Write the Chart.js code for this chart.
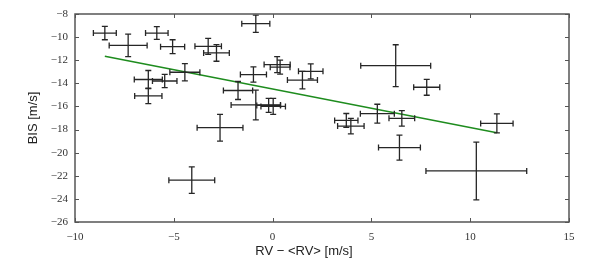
<!DOCTYPE html>
<html>
<head>
<meta charset="utf-8">
<script src="https://cdn.jsdelivr.net/npm/chart.js@4.4.1/dist/chart.umd.min.js"></script>
<style>
  html, body { margin: 0; padding: 0; background: #ffffff; }
  #wrap { width: 600px; height: 279px; position: relative; }
</style>
</head>
<body>
<div id="wrap"><canvas id="c" width="600" height="279"></canvas></div>
<script>
// ---- data ----
const rvValues  = [-8.49, -7.31, -5.86, -5.06, -3.26, -2.84, -0.85, 0.23, 0.38, -0.97, 1.93, 1.51, -4.44, -6.29, -5.46, -6.29, -1.75, -0.85, -0.20, 0.03, -2.66, -4.09, 6.23, 7.80, 3.73, 3.96, 5.30, 6.54, 6.42, 10.31, 11.35];
const bisValues = [-9.65, -10.72, -9.65, -10.83, -10.80, -11.37, -8.84, -12.38, -12.60, -13.24, -12.96, -13.72, -13.04, -13.67, -13.80, -15.09, -14.62, -15.87, -15.91, -16.00, -17.84, -22.38, -12.47, -14.34, -17.21, -17.70, -16.63, -17.03, -19.56, -21.58, -17.47];
const rvErrors  = [0.58, 0.96, 0.57, 0.61, 0.67, 0.65, 0.71, 0.66, 0.50, 0.66, 0.62, 0.76, 0.76, 0.71, 0.62, 0.69, 0.74, 1.25, 0.60, 0.62, 1.16, 1.16, 1.77, 0.66, 0.59, 0.67, 0.86, 0.65, 1.06, 2.55, 0.82];
const bisErrors = [0.58, 0.97, 0.55, 0.60, 0.69, 0.72, 0.75, 0.69, 0.60, 0.66, 0.65, 0.76, 0.75, 0.78, 0.58, 0.67, 0.78, 1.29, 0.60, 0.69, 1.16, 1.15, 1.81, 0.69, 0.60, 0.67, 0.82, 0.67, 1.08, 2.50, 0.82];
const fitRV  = [-8.49, 11.35];
const fitBIS = [-11.66, -18.27];
const xTickValues = [-10, -5, 0, 5, 10, 15];
const yTickValues = [-8, -10, -12, -14, -16, -18, -20, -22, -24, -26];
const xTitle = 'RV \u2212 <RV> [m/s]';
const yTitle = 'BIS [m/s]';

const points = rvValues.map((x, i) => ({ x: x, y: bisValues[i] }));
const fitPoints = fitRV.map((x, i) => ({ x: x, y: fitBIS[i] }));

function fmt(v) { return v < 0 ? '\u2212' + Math.abs(v) : String(v); }

const errorBarPlugin = {
  id: 'errorBars',
  afterDatasetsDraw(chart) {
    const ctx = chart.ctx, xs = chart.scales.x, ys = chart.scales.y;
    ctx.save();
    ctx.strokeStyle = '#262626';
    ctx.lineWidth = 1.3;
    const cap = 3;
    for (let i = 0; i < rvValues.length; i++) {
      const px = xs.getPixelForValue(rvValues[i]);
      const py = ys.getPixelForValue(bisValues[i]);
      const x0 = xs.getPixelForValue(rvValues[i] - rvErrors[i]);
      const x1 = xs.getPixelForValue(rvValues[i] + rvErrors[i]);
      const y0 = ys.getPixelForValue(bisValues[i] - bisErrors[i]);
      const y1 = ys.getPixelForValue(bisValues[i] + bisErrors[i]);
      ctx.beginPath();
      ctx.moveTo(x0, py); ctx.lineTo(x1, py);
      ctx.moveTo(x0, py - cap); ctx.lineTo(x0, py + cap);
      ctx.moveTo(x1, py - cap); ctx.lineTo(x1, py + cap);
      ctx.moveTo(px, y0); ctx.lineTo(px, y1);
      ctx.moveTo(px - cap, y0); ctx.lineTo(px + cap, y0);
      ctx.moveTo(px - cap, y1); ctx.lineTo(px + cap, y1);
      ctx.stroke();
    }
    ctx.restore();
  }
};

const framePlugin = {
  id: 'frame',
  afterDraw(chart) {
    const ctx = chart.ctx, a = chart.chartArea, xs = chart.scales.x, ys = chart.scales.y;
    ctx.save();
    ctx.strokeStyle = '#555555';
    ctx.lineWidth = 1.5;
    ctx.strokeRect(a.left, a.top, a.right - a.left, a.bottom - a.top);
    ctx.lineWidth = 1;
    const t = 4;
    ctx.beginPath();
    xTickValues.forEach(v => {
      const p = Math.round(xs.getPixelForValue(v)) + 0.5;
      ctx.moveTo(p, a.bottom); ctx.lineTo(p, a.bottom - t);
      ctx.moveTo(p, a.top); ctx.lineTo(p, a.top + t);
    });
    yTickValues.forEach(v => {
      const p = Math.round(ys.getPixelForValue(v)) + 0.5;
      ctx.moveTo(a.left, p); ctx.lineTo(a.left + t, p);
      ctx.moveTo(a.right, p); ctx.lineTo(a.right - t, p);
    });
    ctx.stroke();
    // axis titles
    ctx.fillStyle = '#222222';
    ctx.font = '13px "Liberation Sans", Arial, sans-serif';
    ctx.textAlign = 'center';
    ctx.textBaseline = 'middle';
    ctx.fillText(xTitle, 304, 251);
    ctx.translate(33, (a.top + a.bottom) / 2);
    ctx.rotate(-Math.PI / 2);
    ctx.fillText(yTitle, 0, 0);
    ctx.restore();
  }
};

const whiteBg = {
  id: 'whiteBg',
  beforeDraw(chart) {
    const ctx = chart.ctx;
    ctx.save();
    ctx.fillStyle = '#ffffff';
    ctx.fillRect(0, 0, chart.width, chart.height);
    ctx.restore();
  }
};

const tickFont = { family: '"Liberation Serif", "Times New Roman", serif', size: 11 };

new Chart(document.getElementById('c'), {
  type: 'scatter',
  data: {
    datasets: [
      {
        label: 'data',
        data: points,
        pointRadius: 0,
        pointHoverRadius: 0,
        showLine: false
      },
      {
        label: 'fit',
        data: fitPoints,
        showLine: true,
        borderColor: '#1e8c1e',
        borderWidth: 1.5,
        pointRadius: 0,
        fill: false
      }
    ]
  },
  options: {
    responsive: false,
    animation: false,
    events: [],
    layout: { padding: { top: 14, right: 31, left: 0, bottom: 0 } },
    plugins: { legend: { display: false }, tooltip: { enabled: false } },
    scales: {
      x: {
        type: 'linear',
        min: -10, max: 15,
        afterBuildTicks: s => { s.ticks = xTickValues.map(v => ({ value: v })); },
        afterFit: s => { s.height = 57; },
        ticks: { font: tickFont, color: '#333333', padding: 9, autoSkip: false, maxRotation: 0, callback: v => fmt(v) },
        grid: { display: false, drawTicks: false },
        border: { display: false }
      },
      y: {
        type: 'linear',
        min: -26, max: -8,
        afterBuildTicks: s => { s.ticks = yTickValues.map(v => ({ value: v })); },
        afterFit: s => { s.width = 75; },
        ticks: { font: tickFont, color: '#333333', padding: 7, autoSkip: false, callback: v => fmt(v) },
        grid: { display: false, drawTicks: false },
        border: { display: false }
      }
    }
  },
  plugins: [whiteBg, errorBarPlugin, framePlugin]
});
</script>
</body>
</html>
